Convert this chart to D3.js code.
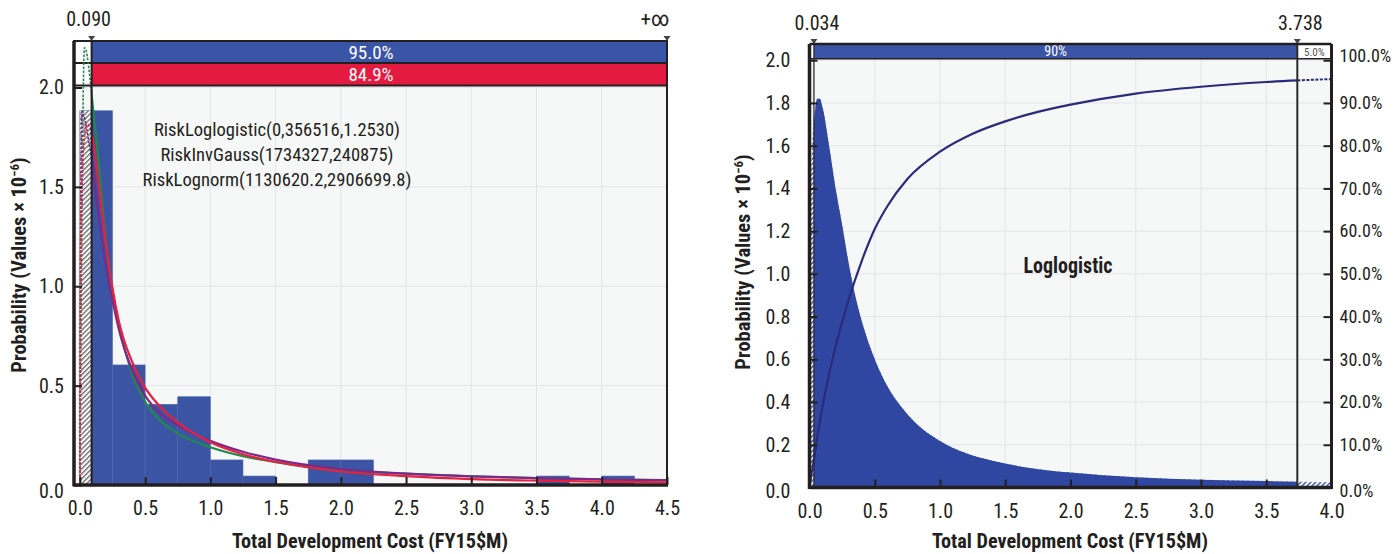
<!DOCTYPE html>
<html>
<head>
<meta charset="utf-8">
<script src="https://cdn.jsdelivr.net/npm/d3@7"></script>
<style>
  body { margin: 0; background: #ffffff; }
  svg { display: block; }
  text { font-family: "Liberation Sans Narrow", "Arial Narrow", "Roboto Condensed", "DejaVu Sans Condensed", "Liberation Sans", sans-serif; fill: #231f20; }
  .tick text { font-size: 20px; }
  .pct .tick text { font-size: 18px; }
  .tick line { stroke: #231f20; stroke-width: 2; }
</style>
</head>
<body>
<svg id="chart" width="1396" height="554"></svg>
<script>
// ---------- Left panel: histogram of total development cost with fitted densities ----------
const histEdges = [0, 0.25, 0.5, 0.75, 1.0, 1.25, 1.5, 1.75, 2.0, 2.25, 2.5, 2.75, 3.0, 3.25, 3.5, 3.75, 4.0, 4.25, 4.5];
const histValues = [1.883, 0.604, 0.406, 0.444, 0.126, 0.045, 0, 0.126, 0.126, 0, 0, 0, 0, 0, 0.045, 0, 0.045, 0];

const fitX =           [0, 0.005, 0.01, 0.015, 0.02, 0.035, 0.05, 0.075, 0.1, 0.125, 0.15, 0.2, 0.25, 0.3, 0.4, 0.5, 0.6, 0.75, 1.0, 1.25, 1.5, 2.0, 2.5, 3.0, 3.5, 4.0, 4.5];
const fitInvGauss =    [0, 0.45, 0.9, 1.3, 1.65, 2.2, 2.18, 2.06, 1.9, 1.75, 1.58, 1.22, 0.98, 0.8, 0.56, 0.42, 0.335, 0.26, 0.19, 0.145, 0.115, 0.075, 0.057, 0.044, 0.035, 0.029, 0.025];
const fitLoglogistic = [0, 1.15, 1.35, 1.47, 1.58, 1.75, 1.82, 1.8, 1.74, 1.62, 1.48, 1.22, 0.99, 0.82, 0.62, 0.49, 0.405, 0.315, 0.215, 0.155, 0.117, 0.068, 0.045, 0.03, 0.022, 0.017, 0.013];
const fitLognorm =     [0, 1.2, 1.7, 1.88, 1.87, 1.85, 1.8, 1.7, 1.6, 1.45, 1.33, 1.1, 0.93, 0.78, 0.58, 0.45, 0.37, 0.3, 0.222, 0.167, 0.128, 0.08, 0.057, 0.043, 0.035, 0.028, 0.024];
const fitLabels = ["RiskLoglogistic(0,356516,1.2530)", "RiskInvGauss(1734327,240875)", "RiskLognorm(1130620.2,2906699.8)"];

const leftTicksX = [0, 0.5, 1.0, 1.5, 2.0, 2.5, 3.0, 3.5, 4.0, 4.5];
const leftTicksY = [0, 0.5, 1.0, 1.5, 2.0];
const leftDelimiter = 0.09;
const leftDelimiterLabels = ["0.090", "+\u221e"];
const leftBandLabels = ["95.0%", "84.9%"];

// ---------- Right panel: Loglogistic density and cumulative curve ----------
const pdfX = [0, 0.005, 0.01, 0.02, 0.04, 0.06, 0.08, 0.1, 0.15, 0.2, 0.25, 0.3, 0.35, 0.4, 0.5, 0.6, 0.7, 0.8, 1.0, 1.2, 1.4, 1.6, 1.8, 2.0, 2.5, 3.0, 3.5, 4.0];
const pdfY = [0, 1.2, 1.39, 1.58, 1.75, 1.82, 1.82, 1.78, 1.6, 1.4, 1.23, 1.05, 0.9, 0.78, 0.6, 0.47, 0.38, 0.31, 0.218, 0.16, 0.125, 0.1, 0.082, 0.07, 0.048, 0.036, 0.03, 0.025];
const cdfX = [0, 0.02, 0.05, 0.1, 0.15, 0.2, 0.3, 0.4, 0.5, 0.6, 0.75, 1.0, 1.25, 1.5, 1.75, 2.0, 2.5, 3.0, 3.5, 4.0];
const cdfY = [0, 0.04, 0.1, 0.19, 0.265, 0.33, 0.44, 0.53, 0.605, 0.66, 0.722, 0.786, 0.828, 0.857, 0.879, 0.896, 0.922, 0.938, 0.949, 0.956];

const rightTicksX = [0, 0.5, 1.0, 1.5, 2.0, 2.5, 3.0, 3.5, 4.0];
const rightTicksY = [0, 0.2, 0.4, 0.6, 0.8, 1.0, 1.2, 1.4, 1.6, 1.8, 2.0];
const rightTicksPct = [0, 0.1, 0.2, 0.3, 0.4, 0.5, 0.6, 0.7, 0.8, 0.9, 1.0];
const rightDelimiters = [0.034, 3.738];
const rightDelimiterLabels = ["0.034", "3.738"];
const rightBandLabels = ["90%", "5.0%"];
const rightTitle = "Loglogistic";

const xTitle = "Total Development Cost (FY15$M)";

const C = {
  ink: "#231f20",
  plotBg: "#f6f7f7",
  grid: "#e3e5e7",
  bar: "#3b54a4",
  bandBlue: "#3a55a5",
  bandRed: "#e31b40",
  green: "#1f8a4c",
  red: "#e8203f",
  purple: "#7b2a8c",
  pdf: "#2f47a0",
  cdf: "#2b2a7c"
};

const svg = d3.select("#chart");
const defs = svg.append("defs");

function hatchPattern(id, color, bg, w) {
  const p = defs.append("pattern").attr("id", id)
    .attr("patternUnits", "userSpaceOnUse")
    .attr("width", 3.5).attr("height", 3.5)
    .attr("patternTransform", "rotate(45)");
  p.append("rect").attr("width", 3.5).attr("height", 3.5).attr("fill", bg);
  p.append("line").attr("x1", 0.8).attr("y1", 0).attr("x2", 0.8).attr("y2", 3.5)
    .attr("stroke", color).attr("stroke-width", w);
}
hatchPattern("hatchDark", "#444444", "#ffffff", 1.1);
hatchPattern("hatchBlue", C.pdf, "#ffffff", 1.4);

function styleAxis(g) {
  g.select(".domain").remove();
  g.attr("font-size", null).attr("font-family", null);
}

function yTitle(x, y) {
  const t = svg.append("text")
    .attr("transform", `translate(${x},${y}) rotate(-90)`)
    .attr("text-anchor", "middle")
    .attr("font-weight", "bold")
    .attr("font-size", 20.5);
  t.append("tspan").text("Probability (Values \u00d7 10");
  t.append("tspan").attr("dy", -7).attr("font-size", 13).text("\u22126");
  t.append("tspan").attr("dy", 7).text(")");
}

function xAxisTitle(cx, y, len) {
  svg.append("text").attr("x", cx).attr("y", y)
    .attr("text-anchor", "middle").attr("font-weight", "bold").attr("font-size", 19.5)
    .attr("textLength", len).attr("lengthAdjust", "spacingAndGlyphs")
    .text(xTitle);
}

function marker(g, x, y) {
  g.append("path").attr("d", `M${x - 3.5},${y - 5}L${x + 3.5},${y - 5}L${x},${y}Z`).attr("fill", "#444");
}

// ================= Left panel =================
{
  const P = { x0: 74, x1: 667, y0: 41, y1: 485 };
  const x = d3.scaleLinear().domain([-0.045, 4.5]).range([P.x0, P.x1]);
  const y = d3.scaleLinear().domain([0, 2.234]).range([P.y1, P.y0]);
  const g = svg.append("g");
  const xd = x(leftDelimiter);

  defs.append("clipPath").attr("id", "clipLin").append("rect")
    .attr("x", xd).attr("y", P.y0).attr("width", P.x1 - xd).attr("height", P.y1 - P.y0);
  defs.append("clipPath").attr("id", "clipLout").append("rect")
    .attr("x", P.x0).attr("y", P.y0).attr("width", xd - P.x0).attr("height", P.y1 - P.y0);

  g.append("rect").attr("x", P.x0).attr("y", P.y0).attr("width", P.x1 - P.x0).attr("height", P.y1 - P.y0)
    .attr("fill", C.plotBg);

  g.append("g").selectAll("line").data(leftTicksX.filter(d => d > 0 && d < 4.5)).join("line")
    .attr("x1", d => x(d)).attr("x2", d => x(d)).attr("y1", P.y0).attr("y2", P.y1)
    .attr("stroke", C.grid).attr("stroke-width", 1);
  g.append("g").selectAll("line").data(leftTicksY.filter(d => d > 0)).join("line")
    .attr("x1", P.x0).attr("x2", P.x1).attr("y1", d => y(d)).attr("y2", d => y(d))
    .attr("stroke", C.grid).attr("stroke-width", 1);

  const bins = histValues.map((v, i) => ({ x0: histEdges[i], x1: histEdges[i + 1], v }));
  g.append("g").selectAll("rect").data(bins.filter(b => b.v > 0)).join("rect")
    .attr("x", d => x(d.x0)).attr("width", d => x(d.x1) - x(d.x0))
    .attr("y", d => y(d.v)).attr("height", d => y(0) - y(d.v))
    .attr("fill", C.bar).attr("stroke", "#4d66b3").attr("stroke-width", 0.6);

  // region left of the delimiter
  g.append("rect").attr("x", x(0)).attr("width", xd - x(0))
    .attr("y", y(histValues[0])).attr("height", y(0) - y(histValues[0]))
    .attr("fill", "url(#hatchDark)");

  // bands across the top
  const bandRows = [
    { y0: P.y0, y1: 63, fill: C.bandBlue, label: leftBandLabels[0] },
    { y0: 63, y1: 85.5, fill: C.bandRed, label: leftBandLabels[1] }
  ];
  bandRows.forEach(r => {
    g.append("rect").attr("x", P.x0).attr("y", r.y0).attr("width", xd - P.x0).attr("height", r.y1 - r.y0)
      .attr("fill", "#ffffff");
    g.append("rect").attr("x", xd).attr("y", r.y0).attr("width", P.x1 - xd).attr("height", r.y1 - r.y0)
      .attr("fill", r.fill);
    g.append("text").attr("x", 371).attr("y", (r.y0 + r.y1) / 2 + 6.5)
      .attr("text-anchor", "middle").attr("font-size", 19).style("fill", "#ffffff").text(r.label);
  });
  [63, 85.5].forEach(yy => g.append("line").attr("x1", P.x0).attr("x2", P.x1).attr("y1", yy).attr("y2", yy)
    .attr("stroke", C.ink).attr("stroke-width", 2));

  // fitted curves: solid inside the delimited range, dashed outside it
  const line = d3.line().x(d => x(d[0])).y(d => y(d[1])).curve(d3.curveMonotoneX);
  const curves = [
    { vals: fitInvGauss, color: C.green },
    { vals: fitLognorm, color: C.purple },
    { vals: fitLoglogistic, color: C.red }
  ];
  const inG = g.append("g").attr("clip-path", "url(#clipLin)");
  const outG = g.append("g").attr("clip-path", "url(#clipLout)");
  curves.forEach(c => {
    const pts = fitX.map((xv, i) => [xv, c.vals[i]]);
    outG.append("path").datum(pts).attr("d", line).attr("fill", "none").attr("stroke", c.color)
      .attr("stroke-width", 1.6).attr("stroke-dasharray", "2.5,1.5");
    inG.append("path").datum(pts).attr("d", line).attr("fill", "none").attr("stroke", c.color).attr("stroke-width", 2.2);
  });

  // delimiter line
  g.append("line").attr("x1", xd).attr("x2", xd).attr("y1", P.y0).attr("y2", P.y1)
    .attr("stroke", C.ink).attr("stroke-width", 2);

  // fit parameter labels
  const lens = [246, 233, 269];
  fitLabels.forEach((t, i) => {
    g.append("text").attr("x", 277).attr("y", 136 + i * 24.8).attr("text-anchor", "middle")
      .attr("font-size", 19).attr("textLength", lens[i]).attr("lengthAdjust", "spacingAndGlyphs").text(t);
  });

  // axes
  g.append("g").attr("transform", `translate(${P.x0},0)`)
    .call(d3.axisLeft(y).tickValues(leftTicksY).tickFormat(d3.format(".1f")).tickSize(-8).tickPadding(10))
    .call(styleAxis)
    .call(a => a.selectAll(".tick").filter(d => d === 0).select("text").attr("dy", "0.6em"));
  g.append("g").attr("transform", `translate(0,${P.y1})`)
    .call(d3.axisBottom(x).tickValues(leftTicksX).tickFormat(d3.format(".1f")).tickSize(-8).tickPadding(16))
    .call(styleAxis);

  // frame
  g.append("rect").attr("x", P.x0).attr("y", P.y0).attr("width", P.x1 - P.x0).attr("height", P.y1 - P.y0)
    .attr("fill", "none").attr("stroke", C.ink).attr("stroke-width", 2);
  g.append("line").attr("x1", P.x0).attr("x2", P.x0).attr("y1", P.y0).attr("y2", P.y1 + 1.5).attr("stroke", C.ink).attr("stroke-width", 3.5);
  g.append("line").attr("x1", P.x0).attr("x2", P.x1 + 1).attr("y1", P.y1).attr("y2", P.y1).attr("stroke", C.ink).attr("stroke-width", 3.5);

  // delimiter labels
  marker(g, xd, P.y0);
  marker(g, P.x1, P.y0);
  g.append("text").attr("x", xd - 3).attr("y", 26).attr("text-anchor", "middle").attr("font-size", 20).text(leftDelimiterLabels[0]);
  g.append("text").attr("x", P.x1 - 12).attr("y", 26).attr("text-anchor", "middle").attr("font-size", 21).text(leftDelimiterLabels[1]);

  yTitle(26, 265);
  xAxisTitle(370, 548, 276);
}

// ================= Right panel =================
{
  const P = { x0: 809.5, x1: 1331.5, y0: 44, y1: 487.5 };
  const x = d3.scaleLinear().domain([0, 4]).range([P.x0, P.x1]);
  const y = d3.scaleLinear().domain([0, 2.076]).range([P.y1, P.y0]);
  const yp = d3.scaleLinear().domain([0, 1]).range([P.y1, y(2.0)]);
  const g = svg.append("g");

  defs.append("clipPath").attr("id", "clipR").append("rect")
    .attr("x", P.x0).attr("y", P.y0).attr("width", P.x1 - P.x0).attr("height", P.y1 - P.y0);
  defs.append("clipPath").attr("id", "clipRin").append("rect")
    .attr("x", x(rightDelimiters[0])).attr("y", P.y0).attr("width", x(rightDelimiters[1]) - x(rightDelimiters[0])).attr("height", P.y1 - P.y0);
  defs.append("clipPath").attr("id", "clipRout").append("rect")
    .attr("x", x(rightDelimiters[1])).attr("y", P.y0).attr("width", P.x1 - x(rightDelimiters[1])).attr("height", P.y1 - P.y0);

  g.append("rect").attr("x", P.x0).attr("y", P.y0).attr("width", P.x1 - P.x0).attr("height", P.y1 - P.y0)
    .attr("fill", C.plotBg);
  g.append("g").selectAll("line").data(rightTicksX.filter(d => d > 0 && d < 4)).join("line")
    .attr("x1", d => x(d)).attr("x2", d => x(d)).attr("y1", P.y0).attr("y2", P.y1)
    .attr("stroke", C.grid).attr("stroke-width", 1);
  g.append("g").selectAll("line").data(rightTicksY.filter(d => d > 0)).join("line")
    .attr("x1", P.x0).attr("x2", P.x1).attr("y1", d => y(d)).attr("y2", d => y(d))
    .attr("stroke", C.grid).attr("stroke-width", 1);

  const pdfPts = pdfX.map((v, i) => [v, pdfY[i]]);
  const area = d3.area().x(d => x(d[0])).y0(y(0)).y1(d => y(d[1])).curve(d3.curveMonotoneX);
  const cg = g.append("g").attr("clip-path", "url(#clipR)");
  cg.append("path").datum(pdfPts).attr("d", area).attr("fill", "url(#hatchBlue)");
  g.append("g").attr("clip-path", "url(#clipRin)")
    .append("path").datum(pdfPts).attr("d", area).attr("fill", C.pdf);

  const cdfPts = cdfX.map((v, i) => [v, cdfY[i]]);
  const cline = d3.line().x(d => x(d[0])).y(d => yp(d[1])).curve(d3.curveMonotoneX);
  g.append("g").attr("clip-path", "url(#clipRin)")
    .append("path").datum(cdfPts).attr("d", cline).attr("fill", "none").attr("stroke", C.cdf).attr("stroke-width", 2.2);
  g.append("g").attr("clip-path", "url(#clipRout)")
    .append("path").datum(cdfPts).attr("d", cline).attr("fill", "none").attr("stroke", C.cdf)
    .attr("stroke-width", 2).attr("stroke-dasharray", "3,1.5");
  g.append("path").datum(cdfPts.filter(d => d[0] <= 0.05)).attr("d", cline).attr("fill", "none").attr("stroke", C.cdf).attr("stroke-width", 2);

  // band
  const bandY1 = 58.7;
  g.append("rect").attr("x", P.x0).attr("y", P.y0).attr("width", P.x1 - P.x0).attr("height", bandY1 - P.y0).attr("fill", "#ffffff");
  g.append("rect").attr("x", x(rightDelimiters[0])).attr("y", P.y0)
    .attr("width", x(rightDelimiters[1]) - x(rightDelimiters[0])).attr("height", bandY1 - P.y0).attr("fill", C.bandBlue);
  g.append("line").attr("x1", P.x0).attr("x2", P.x1).attr("y1", bandY1).attr("y2", bandY1).attr("stroke", C.ink).attr("stroke-width", 1.5);
  g.append("text").attr("x", (x(rightDelimiters[0]) + x(rightDelimiters[1])) / 2).attr("y", bandY1 - 2.5)
    .attr("text-anchor", "middle").attr("font-size", 14).style("fill", "#ffffff").text(rightBandLabels[0]);
  g.append("text").attr("x", (x(rightDelimiters[1]) + P.x1) / 2).attr("y", bandY1 - 3)
    .attr("text-anchor", "middle").attr("font-size", 11).style("fill", "#555").text(rightBandLabels[1]);

  // delimiters
  rightDelimiters.forEach((d, i) => {
    g.append("line").attr("x1", x(d)).attr("x2", x(d)).attr("y1", P.y0).attr("y2", P.y1)
      .attr("stroke", "#2a2a2a").attr("stroke-width", i === 0 ? 1.3 : 2);
    marker(g, x(d), P.y0);
    g.append("text").attr("x", x(d) + 3).attr("y", 30).attr("text-anchor", "middle").attr("font-size", 20).text(rightDelimiterLabels[i]);
  });

  g.append("text").attr("x", 1068).attr("y", 273).attr("text-anchor", "middle")
    .attr("font-weight", "bold").attr("font-size", 22).attr("textLength", 89).attr("lengthAdjust", "spacingAndGlyphs")
    .text(rightTitle);

  // axes
  g.append("g").attr("transform", `translate(${P.x0},0)`)
    .call(d3.axisLeft(y).tickValues(rightTicksY).tickFormat(d3.format(".1f")).tickSize(-8).tickPadding(19))
    .call(styleAxis)
    .call(a => a.selectAll(".tick").filter(d => d === 0).select("text").attr("dy", "0.5em"));
  g.append("g").attr("class", "pct").attr("transform", `translate(${P.x1},0)`)
    .call(d3.axisRight(yp).tickValues(rightTicksPct).tickFormat(d3.format(".1%")).tickSize(-8).tickPadding(8))
    .call(styleAxis)
    .call(a => a.selectAll(".tick").filter(d => d === 0).select("text").attr("dy", "0.5em"))
    .call(a => a.selectAll(".tick").filter(d => d === 1).select("text").attr("dy", "0.05em"));
  g.append("g").attr("transform", `translate(0,${P.y1})`)
    .call(d3.axisBottom(x).tickValues(rightTicksX).tickFormat(d3.format(".1f")).tickSize(-8).tickPadding(16))
    .call(styleAxis);

  // frame
  g.append("line").attr("x1", P.x0).attr("x2", P.x1).attr("y1", P.y0).attr("y2", P.y0).attr("stroke", C.ink).attr("stroke-width", 2.5);
  g.append("line").attr("x1", P.x0).attr("x2", P.x0).attr("y1", P.y0).attr("y2", P.y1 + 1.5).attr("stroke", C.ink).attr("stroke-width", 3.5);
  g.append("line").attr("x1", P.x1).attr("x2", P.x1).attr("y1", P.y0).attr("y2", P.y1 + 1.5).attr("stroke", C.ink).attr("stroke-width", 3);
  g.append("line").attr("x1", P.x0).attr("x2", P.x1).attr("y1", P.y1).attr("y2", P.y1).attr("stroke", C.ink).attr("stroke-width", 3.5);

  yTitle(750, 262);
  xAxisTitle(1070, 548, 276);
}
</script>
</body>
</html>
